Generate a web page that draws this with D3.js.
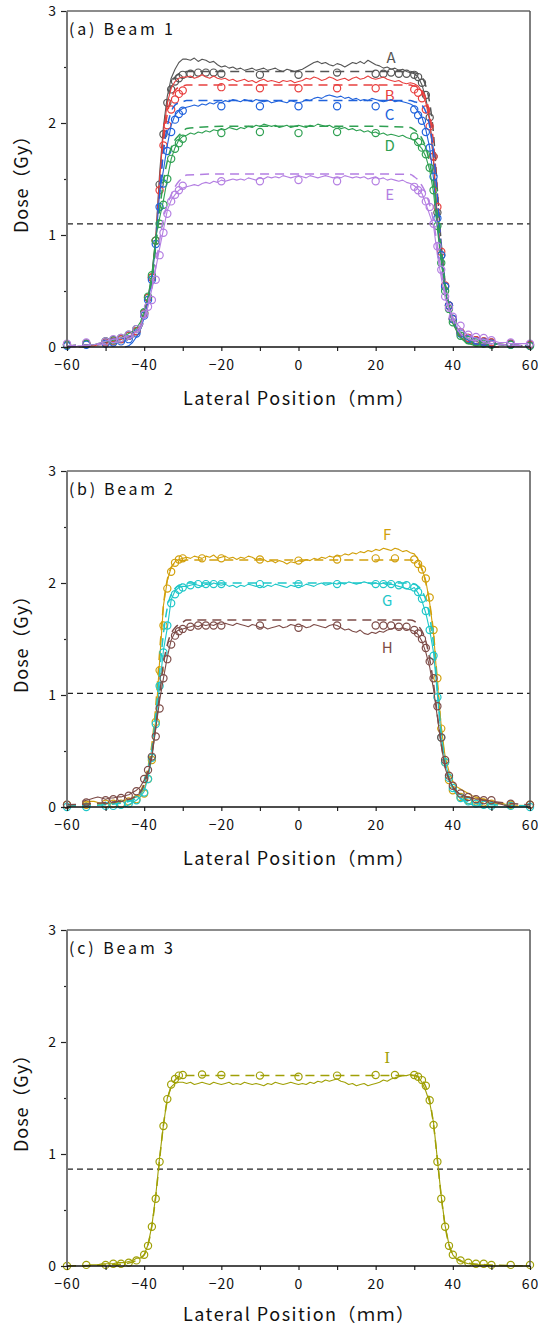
<!DOCTYPE html>
<html><head><meta charset="utf-8">
<script src="https://cdn.jsdelivr.net/npm/d3@7"></script>
<style>
body{margin:0;background:#fff;}
svg{display:block;}
text{font-family:"Noto Sans CJK JP","Noto Sans",sans-serif;}
</style></head><body>
<svg id="chart" width="538" height="1328"></svg>
<script>
// ---------- tick labels ----------
const xTicks = [-60,-40,-20,0,20,40,60];
const xMinorTicks = [-50,-30,-10,10,30,50];
const yTicks = [0,1,2,3];
const yMinorTicks = [0.5,1.5,2.5];
const panelTitles = ["(a) Beam 1","(b) Beam 2","(c) Beam 3"];
const seriesNames = ["A","B","C","D","E","F","G","H","I"];
const thresholds = [1.10, 1.015, 0.865];

// ---------- measured (solid) profiles, 1 mm grid ----------
const gridX = [-60,-59,-58,-57,-56,-55,-54,-53,-52,-51,-50,-49,-48,-47,-46,-45,-44,-43,-42,
 -41,-40,-39,-38,-37,-36,-35,-34,-33,-32,-31,-30,
 -29,-28,-27,-26,-25,-24,-23,-22,-21,-20,-19,-18,-17,-16,-15,-14,-13,-12,-11,-10,
 -9,-8,-7,-6,-5,-4,-3,-2,-1,0,1,2,3,4,5,6,7,8,9,
 10,11,12,13,14,15,16,17,18,19,20,21,22,23,24,25,26,27,28,29,
 30,31,32,33,34,35,36,37,38,39,40,41,
 42,43,44,45,46,47,48,49,50,51,52,53,54,55,56,57,58,59,60];

const solidA = [
 null,null,null,0.00,0.00,0.01,0.01,0.02,0.02,0.03,0.04,0.04,0.05,0.06,0.07,0.08,0.09,0.11,0.14,
 0.19,0.29,0.44,0.64,0.98,1.55,1.97,2.24,2.40,2.48,2.54,2.57,
 2.57,2.56,2.58,2.55,2.57,2.56,2.54,2.55,2.52,2.50,
 2.51,2.49,2.50,2.48,2.49,2.47,2.48,2.49,2.47,2.48,
 2.49,2.47,2.48,2.49,2.47,2.46,2.48,2.47,2.46,
 2.47,
 2.48,2.50,2.52,2.54,2.55,2.53,2.54,2.52,2.51,
 2.53,2.52,2.50,2.52,2.54,2.53,2.55,2.53,2.56,2.54,
 2.52,2.51,2.49,2.50,2.48,2.49,2.47,2.48,2.46,2.45,
 2.44,2.41,2.34,2.22,2.04,1.65,1.10,0.78,0.50,0.34,0.22,0.15,
 0.09,0.06,0.04,0.03,0.02,0.02,0.01,0.01,0.00,0.00,0.00,null,null,null,null,null,null,null,null];

const solidB = [
 null,null,null,null,0.00,0.00,0.01,0.01,0.02,0.02,0.03,0.04,0.05,0.06,0.07,0.08,0.09,0.11,0.14,
 0.19,0.28,0.42,0.62,0.95,1.50,1.92,2.18,2.31,2.37,2.40,2.41,
 2.41,2.42,2.40,2.41,2.43,2.41,2.40,2.42,2.40,2.39,
 2.40,2.38,2.39,2.37,2.38,2.39,2.37,2.38,2.36,2.38,
 2.39,2.37,2.38,2.37,2.36,2.38,2.37,2.38,2.36,
 2.37,
 2.38,2.40,2.39,2.41,2.40,2.38,2.39,2.41,2.40,
 2.38,2.39,2.40,2.38,2.40,2.41,2.39,2.40,2.42,2.40,
 2.39,2.40,2.41,2.39,2.38,2.37,2.38,2.36,2.35,2.36,
 2.35,2.33,2.28,2.18,2.02,1.68,1.15,0.82,0.52,0.35,0.23,0.15,
 0.09,0.06,0.04,0.03,0.02,0.02,0.01,0.01,0.01,0.00,0.00,null,null,null,null,null,null,null,null];

const solidC = [
 null,null,null,null,null,null,null,null,null,null,null,null,null,null,null,0.00,0.01,0.04,0.09,
 0.15,0.26,0.40,0.60,0.92,1.38,1.58,1.80,1.98,2.07,2.11,2.13,
 2.14,2.15,2.16,2.15,2.17,2.16,2.18,2.17,2.19,2.18,
 2.20,2.19,2.21,2.20,2.19,2.21,2.20,2.19,2.21,2.20,
 2.19,2.20,2.18,2.19,2.20,2.19,2.18,2.20,2.19,
 2.18,
 2.19,2.21,2.20,2.22,2.23,2.22,2.24,2.25,2.24,
 2.23,2.24,2.22,2.23,2.21,2.22,2.20,2.21,2.20,2.22,
 2.21,2.20,2.19,2.20,2.21,2.19,2.20,2.19,2.18,2.17,
 2.15,2.10,2.05,1.94,1.78,1.50,1.10,0.80,0.52,0.35,0.24,0.17,
 0.11,0.08,0.06,0.04,0.03,0.02,0.02,0.01,0.00,0.00,null,null,null,null,null,null,null,null,null];

const solidD = [
 null,null,null,null,0.00,0.01,0.02,0.02,0.03,0.04,0.05,0.05,0.06,0.07,0.08,0.10,0.12,0.14,0.17,
 0.22,0.32,0.45,0.65,0.98,1.15,1.31,1.50,1.68,1.78,1.85,1.88,
 1.89,1.91,1.90,1.92,1.91,1.93,1.92,1.94,1.93,1.95,
 1.94,1.96,1.95,1.94,1.96,1.95,1.97,1.96,1.98,1.97,
 1.99,1.98,1.97,1.98,1.96,1.97,1.98,1.96,1.97,
 1.98,
 1.97,1.96,1.98,1.97,1.99,1.98,1.97,1.98,1.96,
 1.97,1.95,1.96,1.94,1.95,1.93,1.94,1.92,1.93,1.91,
 1.92,1.90,1.91,1.89,1.90,1.89,1.88,1.89,1.87,1.86,
 1.85,1.81,1.77,1.70,1.58,1.38,1.05,0.76,0.50,0.33,0.21,0.14,
 0.08,0.05,0.03,0.02,0.01,0.01,0.00,null,null,null,null,null,null,null,null,null,null,null,null];

const solidE = [
 0.00,0.00,0.00,0.01,0.01,0.01,0.02,0.02,0.03,0.04,0.05,0.06,0.07,0.07,0.08,0.09,0.10,0.11,0.14,
 0.19,0.27,0.36,0.52,0.70,0.88,1.05,1.22,1.31,1.36,1.40,1.42,
 1.43,1.44,1.45,1.44,1.46,1.47,1.46,1.48,1.47,1.49,
 1.48,1.49,1.50,1.49,1.50,1.49,1.51,1.50,1.49,1.51,
 1.50,1.52,1.51,1.52,1.51,1.53,1.52,1.51,1.52,
 1.53,
 1.52,1.51,1.53,1.52,1.51,1.52,1.53,1.52,1.51,
 1.52,1.51,1.53,1.52,1.51,1.52,1.51,1.52,1.50,1.51,
 1.52,1.50,1.51,1.49,1.50,1.49,1.48,1.49,1.47,1.46,
 1.44,1.41,1.37,1.28,1.18,1.08,0.82,0.62,0.44,0.34,0.26,0.21,
 0.17,0.13,0.11,0.09,0.08,0.07,0.07,0.06,0.05,0.05,0.04,0.04,0.04,0.03,0.03,0.03,0.03,0.03,0.03];

const solidF = [
 null,null,null,null,0.03,0.04,0.05,0.05,0.04,0.03,0.03,0.03,0.03,0.04,0.05,0.06,0.07,0.08,0.09,
 0.11,0.16,0.28,0.45,0.78,1.30,1.80,2.02,2.14,2.19,2.21,2.22,
 2.23,2.22,2.24,2.23,2.22,2.24,2.23,2.25,2.22,2.23,
 2.24,2.22,2.23,2.21,2.23,2.22,2.24,2.23,2.21,2.22,
 2.21,2.19,2.20,2.18,2.20,2.19,2.17,2.19,2.18,
 2.20,
 2.19,2.21,2.20,2.22,2.21,2.23,2.22,2.24,2.23,
 2.25,2.24,2.26,2.25,2.27,2.26,2.28,2.27,2.29,2.28,
 2.30,2.29,2.31,2.30,2.29,2.31,2.30,2.28,2.29,2.27,
 2.26,2.21,2.13,2.02,1.82,1.55,1.10,0.72,0.45,0.32,0.23,0.18,
 0.16,0.14,0.12,0.10,0.09,0.08,0.07,0.06,0.05,0.04,0.03,0.03,0.02,0.02,0.01,0.01,null,null,null];

const solidG = [
 null,null,null,null,null,null,null,null,null,null,null,null,null,null,null,0.00,0.02,0.04,0.06,
 0.09,0.14,0.26,0.44,0.75,1.08,1.40,1.60,1.85,1.93,1.96,1.97,
 1.97,1.98,1.99,1.98,1.97,1.99,1.98,2.00,1.99,1.98,
 1.99,1.97,1.98,1.96,1.98,1.97,1.99,1.98,1.97,1.98,
 1.96,1.98,1.97,1.99,1.98,1.97,1.96,1.98,1.97,
 1.98,
 1.97,1.99,1.98,1.97,1.99,2.00,1.98,1.99,2.00,
 1.99,2.00,1.99,2.01,2.00,1.99,2.00,2.01,2.00,1.99,
 2.00,1.99,2.00,1.98,1.99,1.98,1.97,1.96,1.95,1.94,
 1.96,1.91,1.84,1.73,1.58,1.38,1.00,0.62,0.40,0.27,0.17,0.11,
 0.07,0.05,0.03,0.02,0.01,0.01,0.00,0.00,0.00,0.00,0.00,0.00,0.00,0.00,0.00,0.00,0.00,0.00,0.00];

const solidH = [
 null,null,null,null,0.05,0.06,0.07,0.08,0.09,0.08,0.07,0.08,0.08,0.09,0.09,0.10,0.11,0.13,0.15,
 0.18,0.24,0.30,0.45,0.70,0.95,1.15,1.34,1.49,1.56,1.58,1.59,
 1.60,1.61,1.62,1.61,1.63,1.62,1.63,1.62,1.64,1.63,
 1.64,1.63,1.62,1.64,1.63,1.62,1.61,1.63,1.62,1.60,
 1.61,1.59,1.60,1.61,1.62,1.60,1.61,1.63,1.62,
 1.61,
 1.62,1.60,1.61,1.63,1.62,1.61,1.60,1.62,1.63,
 1.62,1.60,1.58,1.59,1.57,1.56,1.58,1.55,1.54,1.56,
 1.55,1.57,1.56,1.58,1.59,1.60,1.59,1.60,1.59,1.58,
 1.57,1.54,1.48,1.38,1.25,1.05,0.80,0.55,0.35,0.24,0.18,0.14,
 0.11,0.10,0.09,0.08,0.07,0.07,0.06,0.06,0.05,0.04,0.03,0.02,0.01,0.01,null,null,null,null,null];

const solidI = [
 null,null,null,null,0.00,0.00,0.01,0.01,0.01,0.02,0.02,0.02,0.02,0.03,0.03,0.03,0.04,0.05,0.07,
 0.07,0.10,0.19,0.36,0.63,0.97,1.26,1.50,1.60,1.63,1.64,1.64,
 1.63,1.64,1.62,1.63,1.64,1.63,1.62,1.64,1.63,1.62,
 1.63,1.64,1.62,1.63,1.62,1.64,1.63,1.62,1.63,1.62,
 1.61,1.63,1.62,1.64,1.63,1.62,1.63,1.64,1.63,
 1.62,
 1.63,1.62,1.64,1.63,1.65,1.64,1.66,1.65,1.66,
 1.67,1.65,1.64,1.62,1.63,1.61,1.62,1.63,1.61,1.62,
 1.63,1.64,1.66,1.65,1.67,1.68,1.69,1.70,1.70,1.71,
 1.70,1.69,1.64,1.56,1.46,1.28,0.95,0.62,0.36,0.19,0.10,0.06,
 0.04,0.03,0.02,0.02,0.01,0.01,0.01,0.01,0.00,0.00,0.00,0.00,0.00,0.00,0.00,0.00,0.00,0.00,0.00];

// ---------- calculated (dashed) profiles ----------
const calcX = [-60,-50,-45,-42,-40,-39,-38,-37,-36,-35,-34,-33,-32,-31,-30,-29,-20,-10,0,10,20,29,30,31,32,33,34,35,36,37,38,39,40,42,45,50,60];
const calcA = [0.01,0.03,0.06,0.12,0.25,0.40,0.60,0.95,1.45,1.90,2.18,2.33,2.41,2.44,2.45,2.46,2.46,2.46,2.46,2.46,2.46,2.46,2.45,2.44,2.41,2.33,2.18,1.90,1.40,0.92,0.58,0.38,0.25,0.12,0.06,0.03,0.01];
const calcB = [0.01,0.03,0.06,0.12,0.25,0.40,0.60,0.93,1.40,1.82,2.08,2.22,2.29,2.32,2.33,2.34,2.34,2.34,2.34,2.34,2.34,2.34,2.33,2.32,2.29,2.22,2.08,1.82,1.38,0.90,0.57,0.37,0.25,0.12,0.06,0.03,0.01];
const calcC = [0.01,0.03,0.06,0.12,0.25,0.40,0.60,0.92,1.36,1.74,1.97,2.10,2.16,2.18,2.19,2.20,2.20,2.20,2.20,2.20,2.20,2.20,2.19,2.18,2.16,2.10,1.97,1.74,1.34,0.90,0.57,0.37,0.25,0.12,0.06,0.03,0.01];
const calcD = [0.01,0.03,0.06,0.12,0.25,0.40,0.60,0.90,1.22,1.48,1.66,1.78,1.85,1.89,1.92,1.95,1.97,1.97,1.97,1.97,1.97,1.96,1.94,1.91,1.86,1.78,1.64,1.46,1.18,0.86,0.56,0.37,0.25,0.12,0.06,0.03,0.01];
const calcE = [0.01,0.03,0.06,0.12,0.24,0.36,0.52,0.72,0.95,1.15,1.27,1.36,1.43,1.48,1.51,1.535,1.545,1.545,1.545,1.545,1.545,1.54,1.52,1.49,1.44,1.37,1.27,1.12,0.90,0.68,0.48,0.34,0.24,0.12,0.06,0.03,0.01];
const calcF = [0.01,0.03,0.05,0.10,0.22,0.36,0.56,0.90,1.38,1.80,2.03,2.14,2.18,2.20,2.20,2.205,2.205,2.205,2.205,2.205,2.205,2.205,2.20,2.18,2.12,2.00,1.82,1.55,1.12,0.70,0.42,0.27,0.18,0.10,0.05,0.03,0.01];
const calcG = [0.01,0.02,0.04,0.08,0.20,0.34,0.52,0.82,1.20,1.55,1.78,1.90,1.95,1.98,1.99,2.00,2.00,2.00,2.00,2.00,2.00,2.00,1.99,1.97,1.93,1.85,1.70,1.45,1.05,0.65,0.40,0.26,0.17,0.08,0.04,0.02,0.01];
const calcH = [0.02,0.04,0.06,0.10,0.20,0.32,0.48,0.72,1.00,1.28,1.45,1.55,1.60,1.63,1.65,1.67,1.67,1.67,1.67,1.67,1.67,1.67,1.66,1.62,1.57,1.48,1.32,1.10,0.82,0.56,0.36,0.25,0.18,0.11,0.08,0.05,0.02];
const calcI = [0.00,0.01,0.02,0.05,0.10,0.19,0.36,0.62,0.95,1.26,1.48,1.60,1.66,1.69,1.70,1.70,1.70,1.70,1.70,1.70,1.70,1.70,1.70,1.69,1.66,1.60,1.48,1.26,0.95,0.62,0.36,0.19,0.10,0.05,0.02,0.01,0.00];

// ---------- measured points (circles) ----------
const posDense = [-60,-55,-50,-48,-46,-44,-42,-40,-39,-38,-37,-36,-35,-34,-33,-32,-31,-30,-28,-26,-24,-22,-20,-10,0,10,20,22,24,26,28,30,31,32,33,34,35,36,37,38,39,40,42,44,46,48,50,55,60];
const posSparse = [-60,-55,-50,-48,-46,-44,-42,-40,-39,-38,-37,-36,-35,-34,-33,-32,-31,-30,-20,-10,0,10,20,30,31,32,33,34,35,36,37,38,39,40,42,44,46,48,50,55,60];
const pos25 = [-60,-55,-50,-48,-46,-44,-42,-40,-39,-38,-37,-36,-35,-34,-33,-32,-31,-30,-25,-20,-10,0,10,20,25,30,31,32,33,34,35,36,37,38,39,40,42,44,46,48,50,55,60];

const ptsA = [0.02,0.03,0.05,0.06,0.07,0.10,0.14,
 0.30,0.44,0.62,0.95,1.45,1.90,2.18,2.30,2.37,2.40,2.43,
 2.44,2.45,2.45,2.45,2.44, 2.43,2.43,2.45, 2.44,2.44,2.45,2.44,2.44,
 2.43,2.41,2.36,2.25,2.05,1.70,1.20,0.82,0.54,0.37,0.25,
 0.13,0.08,0.06,0.05,0.04,0.03,0.02];
const ptsB = [0.02,0.03,0.04,0.05,0.07,0.10,0.14,
 0.30,0.44,0.62,0.95,1.40,1.80,1.98,2.12,2.21,2.26,2.29,
 2.32,2.31,2.31,2.31,2.31,
 2.30,2.27,2.22,2.12,1.97,1.70,1.25,0.85,0.55,0.37,0.25,
 0.13,0.08,0.06,0.05,0.04,0.03,0.02];
const ptsC = [0.01,0.02,0.03,0.04,0.05,0.07,0.12,
 0.28,0.42,0.60,0.92,1.25,1.46,1.75,1.92,2.03,2.08,2.11,
 2.15,2.15,2.15,2.15,2.15,
 2.12,2.07,2.02,1.92,1.78,1.52,1.15,0.82,0.54,0.37,0.25,
 0.12,0.07,0.05,0.04,0.03,0.02,0.01];
const ptsD = [0.02,0.03,0.05,0.06,0.08,0.11,0.16,
 0.31,0.45,0.64,0.95,1.10,1.27,1.50,1.68,1.77,1.82,1.86,
 1.91,1.92,1.91,1.92,1.91,
 1.88,1.83,1.78,1.72,1.60,1.40,1.08,0.75,0.50,0.34,0.22,
 0.10,0.06,0.04,0.03,0.02,0.02,0.01];
const ptsE = [0.03,0.04,0.05,0.07,0.08,0.11,0.16,
 0.29,0.36,0.42,0.60,0.82,1.02,1.19,1.30,1.36,1.40,1.44,
 1.48,1.48,1.49,1.48,1.48,
 1.43,1.40,1.37,1.30,1.25,1.10,0.90,0.69,0.45,0.35,0.27,
 0.19,0.11,0.09,0.08,0.06,0.04,0.03];
const ptsF = [0.02,0.02,0.03,0.03,0.03,0.05,0.07,
 0.12,0.25,0.42,0.76,1.22,1.62,1.95,2.10,2.18,2.21,2.22,
 2.22,2.22,2.21,2.20,2.21,2.22,2.22,
 2.21,2.17,2.12,2.04,1.87,1.58,1.15,0.70,0.40,0.24,0.15,
 0.09,0.06,0.05,0.04,0.03,0.02,0.02];
const ptsG = [0.00,0.00,0.01,0.01,0.02,0.03,0.06,
 0.13,0.25,0.44,0.74,1.08,1.38,1.62,1.82,1.90,1.94,1.96,
 1.98,1.99,1.99,1.99,1.99, 1.99,1.99,1.99, 1.99,1.99,1.99,1.98,1.98,
 1.96,1.92,1.86,1.75,1.58,1.35,0.98,0.62,0.40,0.26,0.17,
 0.08,0.05,0.03,0.02,0.01,0.01,0.00];
const ptsH = [0.02,0.04,0.06,0.07,0.08,0.10,0.14,
 0.25,0.33,0.45,0.63,0.88,1.15,1.32,1.45,1.53,1.57,1.59,
 1.61,1.62,1.62,1.62,1.62, 1.62,1.60,1.62, 1.62,1.62,1.62,1.61,1.61,
 1.58,1.55,1.50,1.42,1.30,1.15,0.90,0.62,0.42,0.28,0.19,
 0.12,0.09,0.07,0.06,0.06,0.03,0.02];
const ptsI = [0.00,0.01,0.01,0.02,0.02,0.03,0.05,
 0.10,0.18,0.35,0.60,0.93,1.25,1.49,1.62,1.67,1.70,1.705,
 1.71,1.705,1.70,1.69,1.70,1.705,1.705,
 1.705,1.69,1.66,1.61,1.48,1.26,0.93,0.60,0.35,0.18,0.10,
 0.05,0.03,0.02,0.02,0.01,0.01,0.01];

// ---------- layout / styles ----------
const colors = {A:"#555555",B:"#e8403f",C:"#2163dc",D:"#2fa052",E:"#b47fe2",F:"#d2a00c",G:"#1fc7c9",H:"#7d4c48",I:"#a0a006"};
const panels = [
 {title:panelTitles[0], top:11, bottom:347, thr:thresholds[0], series:[
   {n:"A",solid:solidA,calc:calcA,pos:posDense,pts:ptsA,lab:[24,2.59]},
   {n:"B",solid:solidB,calc:calcB,pos:posSparse,pts:ptsB,lab:[23.6,2.255]},
   {n:"C",solid:solidC,calc:calcC,pos:posSparse,pts:ptsC,lab:[23.6,2.085]},
   {n:"D",solid:solidD,calc:calcD,pos:posSparse,pts:ptsD,lab:[23.6,1.81]},
   {n:"E",solid:solidE,calc:calcE,pos:posSparse,pts:ptsE,lab:[23.6,1.37]}]},
 {title:panelTitles[1], top:471, bottom:807, thr:thresholds[1], series:[
   {n:"F",solid:solidF,calc:calcF,pos:pos25,pts:ptsF,lab:[23.0,2.44]},
   {n:"G",solid:solidG,calc:calcG,pos:posDense,pts:ptsG,lab:[23.0,1.855]},
   {n:"H",solid:solidH,calc:calcH,pos:posDense,pts:ptsH,lab:[23.0,1.43]}]},
 {title:panelTitles[2], top:930, bottom:1266, thr:thresholds[2], series:[
   {n:"I",solid:solidI,calc:calcI,pos:pos25,pts:ptsI,lab:[23.0,1.855],serif:true}]}
];

const svg = d3.select("#chart");
const L = 67, R = 530;
const x = d3.scaleLinear().domain([-60,60]).range([L,R]);

panels.forEach(p => {
  const y = d3.scaleLinear().domain([0,3]).range([p.bottom,p.top]);
  const g = svg.append("g");

  // threshold dashed line
  g.append("line").attr("x1",x(-60)).attr("x2",x(60)).attr("y1",y(p.thr)).attr("y2",y(p.thr))
    .attr("stroke","#222").attr("stroke-width",1.2).attr("stroke-dasharray","6,4");

  p.series.forEach(s => {
    const col = colors[s.n];
    const calcPts = calcX.map((v,i)=>[v,s.calc[i]]);
    g.append("path").datum(calcPts)
      .attr("d", d3.line().x(d=>x(d[0])).y(d=>y(d[1])).curve(d3.curveMonotoneX))
      .attr("fill","none").attr("stroke",col).attr("stroke-width",1.5).attr("stroke-dasharray","9,6");
    const solidPts = gridX.map((v,i)=>[v,s.solid[i]]);
    g.append("path").datum(solidPts)
      .attr("d", d3.line().defined(d=>d[1]!=null).x(d=>x(d[0])).y(d=>y(d[1])))
      .attr("fill","none").attr("stroke",col).attr("stroke-width",1.1).attr("stroke-linejoin","round");
    g.append("g").selectAll("circle").data(s.pos.map((v,i)=>[v,s.pts[i]])).join("circle")
      .attr("cx",d=>x(d[0])).attr("cy",d=>y(d[1])).attr("r",3.6)
      .attr("fill","none").attr("stroke",col).attr("stroke-width",1.2);
    g.append("text").attr("x",x(s.lab[0])).attr("y",y(s.lab[1]))
      .attr("text-anchor","middle").attr("dominant-baseline","central")
      .attr("font-size",15).attr("fill",col)
      .style("font-family", s.serif ? "'DejaVu Serif',serif" : null)
      .text(s.n);
  });

  // axes
  const axL = g.append("g").attr("transform",`translate(${L},0)`)
    .call(d3.axisLeft(y).tickValues(yTicks).tickSize(6).tickPadding(4).tickFormat(d3.format("d")));
  const axLm = g.append("g").attr("transform",`translate(${L},0)`)
    .call(d3.axisLeft(y).tickValues(yMinorTicks).tickSize(3).tickFormat(""));
  const axB = g.append("g").attr("transform",`translate(0,${p.bottom})`)
    .call(d3.axisBottom(x).tickValues(xTicks).tickSize(4).tickPadding(9).tickFormat(d3.format("d")));
  const axBm = g.append("g").attr("transform",`translate(0,${p.bottom})`)
    .call(d3.axisBottom(x).tickValues(xMinorTicks).tickSize(4).tickFormat(""));
  [axL,axLm,axB,axBm].forEach(a => {
    a.select(".domain").remove();
    a.attr("font-family","'Noto Sans CJK JP',sans-serif").attr("font-size",14);
    a.selectAll("line").attr("stroke","#222").attr("stroke-width",1.2);
    a.selectAll("text").attr("fill","#111").attr("letter-spacing","1px");
  });

  // frame
  g.append("line").attr("x1",L).attr("x2",R).attr("y1",p.top).attr("y2",p.top).attr("stroke","#666").attr("stroke-width",1.5);
  g.append("line").attr("x1",R).attr("x2",R).attr("y1",p.top).attr("y2",p.bottom).attr("stroke","#555").attr("stroke-width",1.5);
  g.append("line").attr("x1",L).attr("x2",L).attr("y1",p.top).attr("y2",p.bottom).attr("stroke","#777").attr("stroke-width",2);
  g.append("line").attr("x1",L).attr("x2",R).attr("y1",p.bottom).attr("y2",p.bottom).attr("stroke","#111").attr("stroke-width",1.5);

  // panel title
  g.append("text").attr("x",L+2).attr("y",p.top+24).attr("font-size",16).attr("fill","#111")
    .attr("textLength",104).attr("lengthAdjust","spacing").text(p.title);

  // axis titles
  g.append("text").attr("x",(L+R)/2).attr("y",Math.min(p.bottom+58,1321)).attr("text-anchor","middle")
    .attr("font-size",18).attr("fill","#111").attr("textLength",231).attr("lengthAdjust","spacing")
    .text("Lateral Position（ｍｍ）");
  g.append("text").attr("transform",`translate(20,${(p.top+p.bottom)/2+1}) rotate(-90)`)
    .attr("text-anchor","middle").attr("dominant-baseline","central")
    .attr("font-size",18).attr("fill","#111").attr("textLength",106).attr("lengthAdjust","spacing")
    .text("Dose（Gy）");
});
</script>
</body></html>
